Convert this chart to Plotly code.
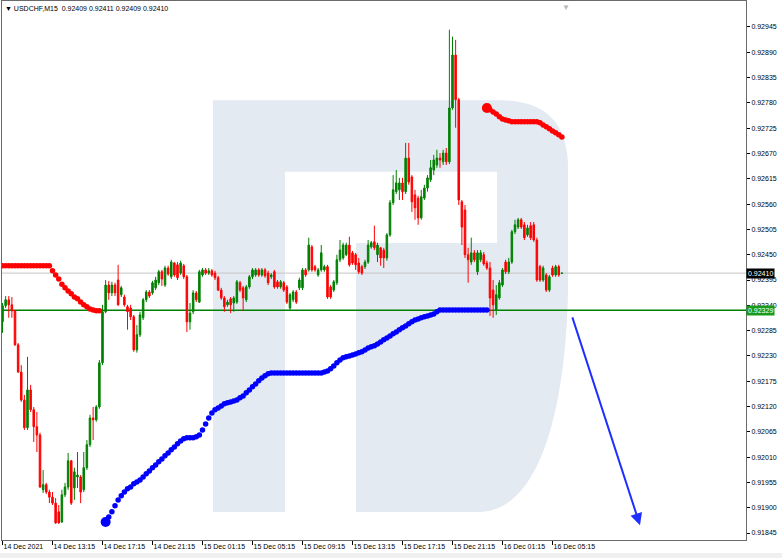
import plotly.graph_objects as go

# ---------------- data (USDCHF M15) ----------------
bar_open = [0.92304, 0.92339, 0.92352, 0.92341, 0.92328, 0.92254, 0.92195, 0.92134, 0.92074, 0.92156,
            0.92113, 0.92076, 0.92058, 0.91939, 0.91950, 0.91934, 0.91923, 0.91910, 0.91891, 0.91869,
            0.91928, 0.91945, 0.92002, 0.91943, 0.91967, 0.91967, 0.91939, 0.91987, 0.92037, 0.92095,
            0.92091, 0.92119, 0.92215, 0.92326, 0.92384, 0.92367, 0.92384, 0.92395, 0.92363, 0.92358,
            0.92337, 0.92334, 0.92315, 0.92243, 0.92276, 0.92313, 0.92352, 0.92369, 0.92367, 0.92378,
            0.92389, 0.92413, 0.92384, 0.92421, 0.92402, 0.92432, 0.92428, 0.92410, 0.92426, 0.92402,
            0.92304, 0.92326, 0.92367, 0.92347, 0.92406, 0.92417, 0.92410, 0.92415, 0.92410, 0.92400,
            0.92373, 0.92356, 0.92341, 0.92354, 0.92345, 0.92347, 0.92389, 0.92378, 0.92352, 0.92380,
            0.92402, 0.92406, 0.92417, 0.92406, 0.92417, 0.92410, 0.92402, 0.92413, 0.92391, 0.92380,
            0.92389, 0.92380, 0.92334, 0.92352, 0.92369, 0.92378, 0.92378, 0.92417, 0.92417, 0.92467,
            0.92424, 0.92406, 0.92417, 0.92417, 0.92424, 0.92380, 0.92373, 0.92389, 0.92439, 0.92443,
            0.92450, 0.92471, 0.92454, 0.92450, 0.92432, 0.92424, 0.92424, 0.92434, 0.92467, 0.92478,
            0.92450, 0.92465, 0.92460, 0.92443, 0.92493, 0.92563, 0.92587, 0.92591, 0.92606, 0.92587,
            0.92660, 0.92619, 0.92580, 0.92573, 0.92530, 0.92573, 0.92595, 0.92613, 0.92634, 0.92645,
            0.92660, 0.92652, 0.92671, 0.92652, 0.92769, 0.92884, 0.92787, 0.92565, 0.92547, 0.92450,
            0.92434, 0.92454, 0.92413, 0.92439, 0.92450, 0.92432, 0.92421, 0.92373, 0.92330, 0.92356,
            0.92384, 0.92434, 0.92413, 0.92434, 0.92500, 0.92510, 0.92526, 0.92515, 0.92493, 0.92513,
            0.92515, 0.92482, 0.92424, 0.92395, 0.92406, 0.92373, 0.92421, 0.92406, 0.92424, 0.92409]

bar_high = [0.92345, 0.92360, 0.92360, 0.92358, 0.92330, 0.92258, 0.92210, 0.92145, 0.92228, 0.92167,
            0.92119, 0.92108, 0.92063, 0.91982, 0.91954, 0.91939, 0.91934, 0.91921, 0.91906, 0.91939,
            0.91954, 0.92019, 0.92004, 0.91987, 0.92021, 0.91971, 0.92021, 0.92047, 0.92102, 0.92119,
            0.92123, 0.92221, 0.92341, 0.92395, 0.92393, 0.92391, 0.92389, 0.92428, 0.92382, 0.92363,
            0.92341, 0.92341, 0.92319, 0.92297, 0.92326, 0.92356, 0.92373, 0.92373, 0.92393, 0.92402,
            0.92417, 0.92417, 0.92426, 0.92426, 0.92439, 0.92434, 0.92434, 0.92437, 0.92430, 0.92406,
            0.92345, 0.92373, 0.92371, 0.92417, 0.92421, 0.92421, 0.92421, 0.92419, 0.92415, 0.92404,
            0.92378, 0.92360, 0.92352, 0.92358, 0.92360, 0.92395, 0.92393, 0.92382, 0.92384, 0.92406,
            0.92421, 0.92421, 0.92421, 0.92421, 0.92421, 0.92415, 0.92410, 0.92417, 0.92395, 0.92395,
            0.92393, 0.92384, 0.92367, 0.92373, 0.92373, 0.92400, 0.92421, 0.92421, 0.92487, 0.92471,
            0.92428, 0.92421, 0.92471, 0.92428, 0.92428, 0.92384, 0.92395, 0.92450, 0.92482, 0.92476,
            0.92476, 0.92489, 0.92458, 0.92454, 0.92443, 0.92428, 0.92439, 0.92482, 0.92480, 0.92513,
            0.92476, 0.92467, 0.92465, 0.92497, 0.92569, 0.92623, 0.92634, 0.92617, 0.92617, 0.92693,
            0.92693, 0.92623, 0.92591, 0.92578, 0.92591, 0.92602, 0.92623, 0.92656, 0.92667, 0.92678,
            0.92671, 0.92678, 0.92682, 0.92939, 0.92924, 0.92917, 0.92791, 0.92569, 0.92558, 0.92465,
            0.92487, 0.92460, 0.92460, 0.92460, 0.92456, 0.92437, 0.92434, 0.92395, 0.92384, 0.92395,
            0.92421, 0.92439, 0.92443, 0.92504, 0.92526, 0.92530, 0.92530, 0.92521, 0.92515, 0.92521,
            0.92521, 0.92487, 0.92428, 0.92426, 0.92410, 0.92406, 0.92426, 0.92428, 0.92428, 0.92411]

bar_low = [0.92280, 0.92334, 0.92313, 0.92313, 0.92252, 0.92193, 0.92130, 0.92069, 0.92069, 0.92108,
           0.92043, 0.92021, 0.91943, 0.91932, 0.91930, 0.91910, 0.91906, 0.91865, 0.91865, 0.91867,
           0.91923, 0.91939, 0.91906, 0.91917, 0.91943, 0.91910, 0.91934, 0.91982, 0.92032, 0.92047,
           0.92087, 0.92115, 0.92210, 0.92323, 0.92352, 0.92360, 0.92360, 0.92339, 0.92358, 0.92337,
           0.92287, 0.92308, 0.92239, 0.92237, 0.92271, 0.92308, 0.92347, 0.92356, 0.92363, 0.92373,
           0.92384, 0.92382, 0.92380, 0.92404, 0.92397, 0.92402, 0.92395, 0.92406, 0.92397, 0.92282,
           0.92287, 0.92321, 0.92347, 0.92345, 0.92402, 0.92406, 0.92406, 0.92402, 0.92395, 0.92371,
           0.92352, 0.92326, 0.92337, 0.92323, 0.92326, 0.92343, 0.92369, 0.92328, 0.92347, 0.92376,
           0.92397, 0.92402, 0.92402, 0.92402, 0.92400, 0.92384, 0.92397, 0.92376, 0.92376, 0.92376,
           0.92369, 0.92343, 0.92330, 0.92347, 0.92343, 0.92373, 0.92373, 0.92402, 0.92413, 0.92413,
           0.92413, 0.92402, 0.92413, 0.92413, 0.92354, 0.92354, 0.92369, 0.92384, 0.92434, 0.92439,
           0.92447, 0.92424, 0.92428, 0.92417, 0.92408, 0.92406, 0.92419, 0.92430, 0.92463, 0.92460,
           0.92434, 0.92426, 0.92421, 0.92437, 0.92489, 0.92558, 0.92582, 0.92569, 0.92569, 0.92582,
           0.92602, 0.92543, 0.92526, 0.92515, 0.92526, 0.92569, 0.92587, 0.92608, 0.92623, 0.92639,
           0.92639, 0.92645, 0.92645, 0.92647, 0.92765, 0.92726, 0.92558, 0.92471, 0.92443, 0.92389,
           0.92428, 0.92434, 0.92406, 0.92434, 0.92426, 0.92417, 0.92317, 0.92313, 0.92319, 0.92352,
           0.92380, 0.92408, 0.92408, 0.92430, 0.92495, 0.92506, 0.92506, 0.92482, 0.92489, 0.92482,
           0.92478, 0.92391, 0.92391, 0.92391, 0.92369, 0.92369, 0.92402, 0.92402, 0.92402, 0.92409]

bar_close = [0.92339, 0.92352, 0.92341, 0.92328, 0.92254, 0.92195, 0.92134, 0.92074, 0.92156, 0.92113,
             0.92076, 0.92058, 0.91945, 0.91950, 0.91934, 0.91923, 0.91910, 0.91867, 0.91867, 0.91928,
             0.91945, 0.92002, 0.91910, 0.91978, 0.91971, 0.91934, 0.91987, 0.92037, 0.92095, 0.92091,
             0.92119, 0.92215, 0.92326, 0.92384, 0.92367, 0.92384, 0.92367, 0.92341, 0.92378, 0.92341,
             0.92326, 0.92315, 0.92243, 0.92276, 0.92319, 0.92352, 0.92369, 0.92360, 0.92389, 0.92395,
             0.92413, 0.92397, 0.92421, 0.92408, 0.92434, 0.92406, 0.92400, 0.92432, 0.92402, 0.92304,
             0.92323, 0.92367, 0.92352, 0.92413, 0.92417, 0.92410, 0.92415, 0.92406, 0.92400, 0.92373,
             0.92356, 0.92337, 0.92347, 0.92341, 0.92356, 0.92391, 0.92373, 0.92356, 0.92380, 0.92402,
             0.92417, 0.92417, 0.92406, 0.92417, 0.92404, 0.92389, 0.92406, 0.92380, 0.92380, 0.92391,
             0.92373, 0.92347, 0.92363, 0.92369, 0.92347, 0.92395, 0.92417, 0.92406, 0.92471, 0.92417,
             0.92417, 0.92417, 0.92454, 0.92424, 0.92358, 0.92358, 0.92391, 0.92439, 0.92460, 0.92471,
             0.92471, 0.92428, 0.92432, 0.92428, 0.92413, 0.92410, 0.92434, 0.92471, 0.92476, 0.92465,
             0.92471, 0.92443, 0.92443, 0.92493, 0.92563, 0.92591, 0.92606, 0.92606, 0.92587, 0.92660,
             0.92608, 0.92565, 0.92552, 0.92530, 0.92576, 0.92595, 0.92617, 0.92639, 0.92656, 0.92660,
             0.92656, 0.92671, 0.92652, 0.92769, 0.92884, 0.92787, 0.92569, 0.92510, 0.92450, 0.92439,
             0.92454, 0.92439, 0.92454, 0.92454, 0.92430, 0.92421, 0.92356, 0.92341, 0.92363, 0.92389,
             0.92417, 0.92413, 0.92434, 0.92500, 0.92515, 0.92526, 0.92510, 0.92487, 0.92508, 0.92487,
             0.92482, 0.92395, 0.92395, 0.92421, 0.92373, 0.92402, 0.92406, 0.92424, 0.92406, 0.92410]

# upper (red) and lower (blue) dotted indicator, with the bar index they start at
red_a_start = 0
red_dots_a = [0.92426, 0.92426, 0.92426, 0.92426, 0.92426, 0.92426, 0.92426, 0.92426,
              0.92426, 0.92426, 0.92426, 0.92426, 0.92426, 0.92426, 0.92426, 0.92426,
              0.92415, 0.92406, 0.92397, 0.92386, 0.92378, 0.92371, 0.92365, 0.92358,
              0.92354, 0.92347, 0.92341, 0.92337, 0.92332, 0.92330, 0.92328, 0.92328]
red_b_start = 155
red_dots_b = [0.92769, 0.92765, 0.92760, 0.92756, 0.92750, 0.92745, 0.92743, 0.92741,
              0.92739, 0.92739, 0.92739, 0.92739, 0.92739, 0.92739, 0.92739, 0.92739, 0.92739,
              0.92737, 0.92732, 0.92728, 0.92724, 0.92719, 0.92715, 0.92711, 0.92706]
blue_start = 33
blue_dots = [0.91869, 0.91880, 0.91891, 0.91904, 0.91917, 0.91926, 0.91934, 0.91941, 0.91945, 0.91952,
             0.91956, 0.91960, 0.91967, 0.91974, 0.91980, 0.91987, 0.91993, 0.92000, 0.92006, 0.92013,
             0.92019, 0.92026, 0.92032, 0.92039, 0.92045, 0.92050, 0.92052, 0.92052, 0.92052, 0.92054,
             0.92058, 0.92069, 0.92082, 0.92095, 0.92106, 0.92113, 0.92117, 0.92121, 0.92126, 0.92128,
             0.92130, 0.92132, 0.92134, 0.92139, 0.92143, 0.92150, 0.92156, 0.92163, 0.92169, 0.92176,
             0.92182, 0.92187, 0.92191, 0.92193, 0.92193, 0.92193, 0.92193, 0.92193, 0.92193, 0.92193,
             0.92193, 0.92193, 0.92193, 0.92193, 0.92193, 0.92193, 0.92193, 0.92193, 0.92193, 0.92193,
             0.92195, 0.92197, 0.92202, 0.92208, 0.92215, 0.92221, 0.92226, 0.92228, 0.92230, 0.92232,
             0.92234, 0.92237, 0.92239, 0.92243, 0.92247, 0.92250, 0.92252, 0.92256, 0.92260, 0.92265,
             0.92269, 0.92273, 0.92278, 0.92282, 0.92287, 0.92291, 0.92295, 0.92300, 0.92304, 0.92308,
             0.92310, 0.92313, 0.92315, 0.92317, 0.92319, 0.92321, 0.92326, 0.92330, 0.92330, 0.92330,
             0.92330, 0.92330, 0.92330, 0.92330, 0.92330, 0.92330, 0.92330, 0.92330, 0.92330, 0.92330,
             0.92330, 0.92330, 0.92330]

current_price = 0.92410
level_price = 0.92329
arrow_from = (182.2, 0.92317)
arrow_to = (204.0, 0.91862)

tick_bars = [0, 16, 32, 48, 64, 80, 96, 112, 128, 144, 160, 176]
tick_labels = ["14 Dec 2021", "14 Dec 13:15", "14 Dec 17:15", "14 Dec 21:15", "15 Dec 01:15",
               "15 Dec 05:15", "15 Dec 09:15", "15 Dec 13:15", "15 Dec 17:15", "15 Dec 21:15",
               "16 Dec 01:15", "16 Dec 05:15"]
price_ticks = [0.91845, 0.91900, 0.91955, 0.92010, 0.92065, 0.92120, 0.92175, 0.92230, 0.92285,
               0.92340, 0.92395, 0.92450, 0.92505, 0.92560, 0.92615, 0.92670, 0.92725, 0.92780,
               0.92835, 0.92890, 0.92945]
title_text = "▼ USDCHF,M15\u00a0\u00a00.92409 0.92411 0.92409 0.92410"

FONT = "Liberation Sans, Arial, sans-serif"
GREEN = "#008000"
RED = "#ff0000"
BLUE = "#0000ff"

bar_index = list(range(len(bar_close)))

fig = go.Figure()

fig.add_trace(go.Candlestick(
    x=bar_index, open=bar_open, high=bar_high, low=bar_low, close=bar_close,
    increasing=dict(line=dict(color=GREEN, width=1), fillcolor=GREEN),
    decreasing=dict(line=dict(color=RED, width=1), fillcolor=RED),
    whiskerwidth=0, showlegend=False, hoverinfo="skip"))

red_a_x = list(range(red_a_start, red_a_start + len(red_dots_a)))
red_b_x = list(range(red_b_start, red_b_start + len(red_dots_b)))
blue_x = list(range(blue_start, blue_start + len(blue_dots)))

fig.add_trace(go.Scatter(x=red_a_x, y=red_dots_a, mode="markers",
                         marker=dict(color=RED, size=5.5), showlegend=False, hoverinfo="skip"))
fig.add_trace(go.Scatter(x=red_b_x, y=red_dots_b, mode="markers",
                         marker=dict(color=RED, size=5.5), showlegend=False, hoverinfo="skip"))
fig.add_trace(go.Scatter(x=blue_x, y=blue_dots, mode="markers",
                         marker=dict(color=BLUE, size=5.5), showlegend=False, hoverinfo="skip"))
# signal start markers (larger dots)
fig.add_trace(go.Scatter(x=[red_b_x[0]], y=[red_dots_b[0]], mode="markers",
                         marker=dict(color=RED, size=10), showlegend=False, hoverinfo="skip"))
fig.add_trace(go.Scatter(x=[blue_x[0]], y=[blue_dots[0]], mode="markers",
                         marker=dict(color=BLUE, size=10), showlegend=False, hoverinfo="skip"))

# ---------------- watermark "R" (paper coords) ----------------
WM = "#e4eaf2"
shapes = [
    dict(type="rect", xref="paper", yref="paper", x0=0.2836, x1=0.3804, y0=0.052, y1=0.816,
         fillcolor=WM, line=dict(width=0), layer="below"),
    dict(type="path", xref="paper", yref="paper", layer="below", fillcolor=WM, line=dict(width=0),
         path=("M 0.3804 0.816 L 0.6694 0.816 Q 0.7608 0.816 0.7608 0.690 L 0.7608 0.482 "
               "C 0.7608 0.300 0.735 0.052 0.640 0.052 L 0.4758 0.052 L 0.4758 0.551 "
               "L 0.6653 0.551 L 0.6653 0.683 L 0.3804 0.683 Z")),
    dict(type="line", xref="paper", yref="y", x0=0, x1=1, y0=current_price, y1=current_price,
         line=dict(color="#c4c4c4", width=1), layer="below"),
    dict(type="line", xref="paper", yref="y", x0=0, x1=1, y0=level_price, y1=level_price,
         line=dict(color=GREEN, width=1.5), layer="below"),
    dict(type="rect", xref="paper", yref="paper", x0=-0.01, x1=1.06, y0=-0.035, y1=-0.024,
         fillcolor="#f0f0f0", line=dict(width=0), layer="below"),
]

annotations = [
    dict(xref="paper", yref="paper", x=0.002, y=0.986, xanchor="left", yanchor="middle",
         text=title_text, showarrow=False, font=dict(family=FONT, size=7, color="#000000")),
    dict(xref="paper", yref="y", x=1.0, y=current_price, xanchor="left", yanchor="middle",
         text="0.92410", showarrow=False, bgcolor="#000000", borderpad=1,
         font=dict(family=FONT, size=7, color="#ffffff")),
    dict(xref="paper", yref="y", x=1.0, y=level_price, xanchor="left", yanchor="middle",
         text="0.92329", showarrow=False, bgcolor="#1a9a1a", borderpad=1,
         font=dict(family=FONT, size=7, color="#ffffff")),
    dict(xref="x", yref="y", axref="x", ayref="y", x=arrow_to[0], y=arrow_to[1],
         ax=arrow_from[0], ay=arrow_from[1], showarrow=True, arrowhead=2, arrowsize=1.2,
         arrowwidth=2, arrowcolor="#1f2fff", standoff=0, text=""),
    dict(xref="paper", yref="paper", x=0.758, y=1.0, xanchor="center", yanchor="top",
         text="▼", showarrow=False, font=dict(family=FONT, size=8, color="#b8b8b8")),
]

fig.update_layout(
    width=782, height=558,
    margin=dict(l=2, r=36, t=1, b=18, autoexpand=False),
    paper_bgcolor="#ffffff", plot_bgcolor="#ffffff",
    font=dict(family=FONT, size=7, color="#000000"),
    showlegend=False,
    shapes=shapes, annotations=annotations,
    xaxis=dict(range=[-0.16, 237.92], tickmode="array", tickvals=tick_bars, ticktext=tick_labels,
               ticks="outside", ticklen=4, tickcolor="#000000", ticklabelposition="outside right",
               tickangle=0, automargin=False,
               showgrid=False, zeroline=False, showline=True, mirror=True,
               linecolor="#6a6a6a", linewidth=1, rangeslider=dict(visible=False),
               tickfont=dict(family=FONT, size=7, color="#000000")),
    yaxis=dict(side="right", range=[0.918298, 0.930015], tickmode="array", tickvals=price_ticks,
               tickformat=".5f", ticks="outside", ticklen=3, tickcolor="#000000", automargin=False,
               showgrid=False, zeroline=False, showline=True, mirror=True,
               linecolor="#6a6a6a", linewidth=1,
               tickfont=dict(family=FONT, size=7, color="#000000")),
)

fig.write_html("out.html", config={"displayModeBar": False},
               post_script="document.body.style.margin='0px';")
